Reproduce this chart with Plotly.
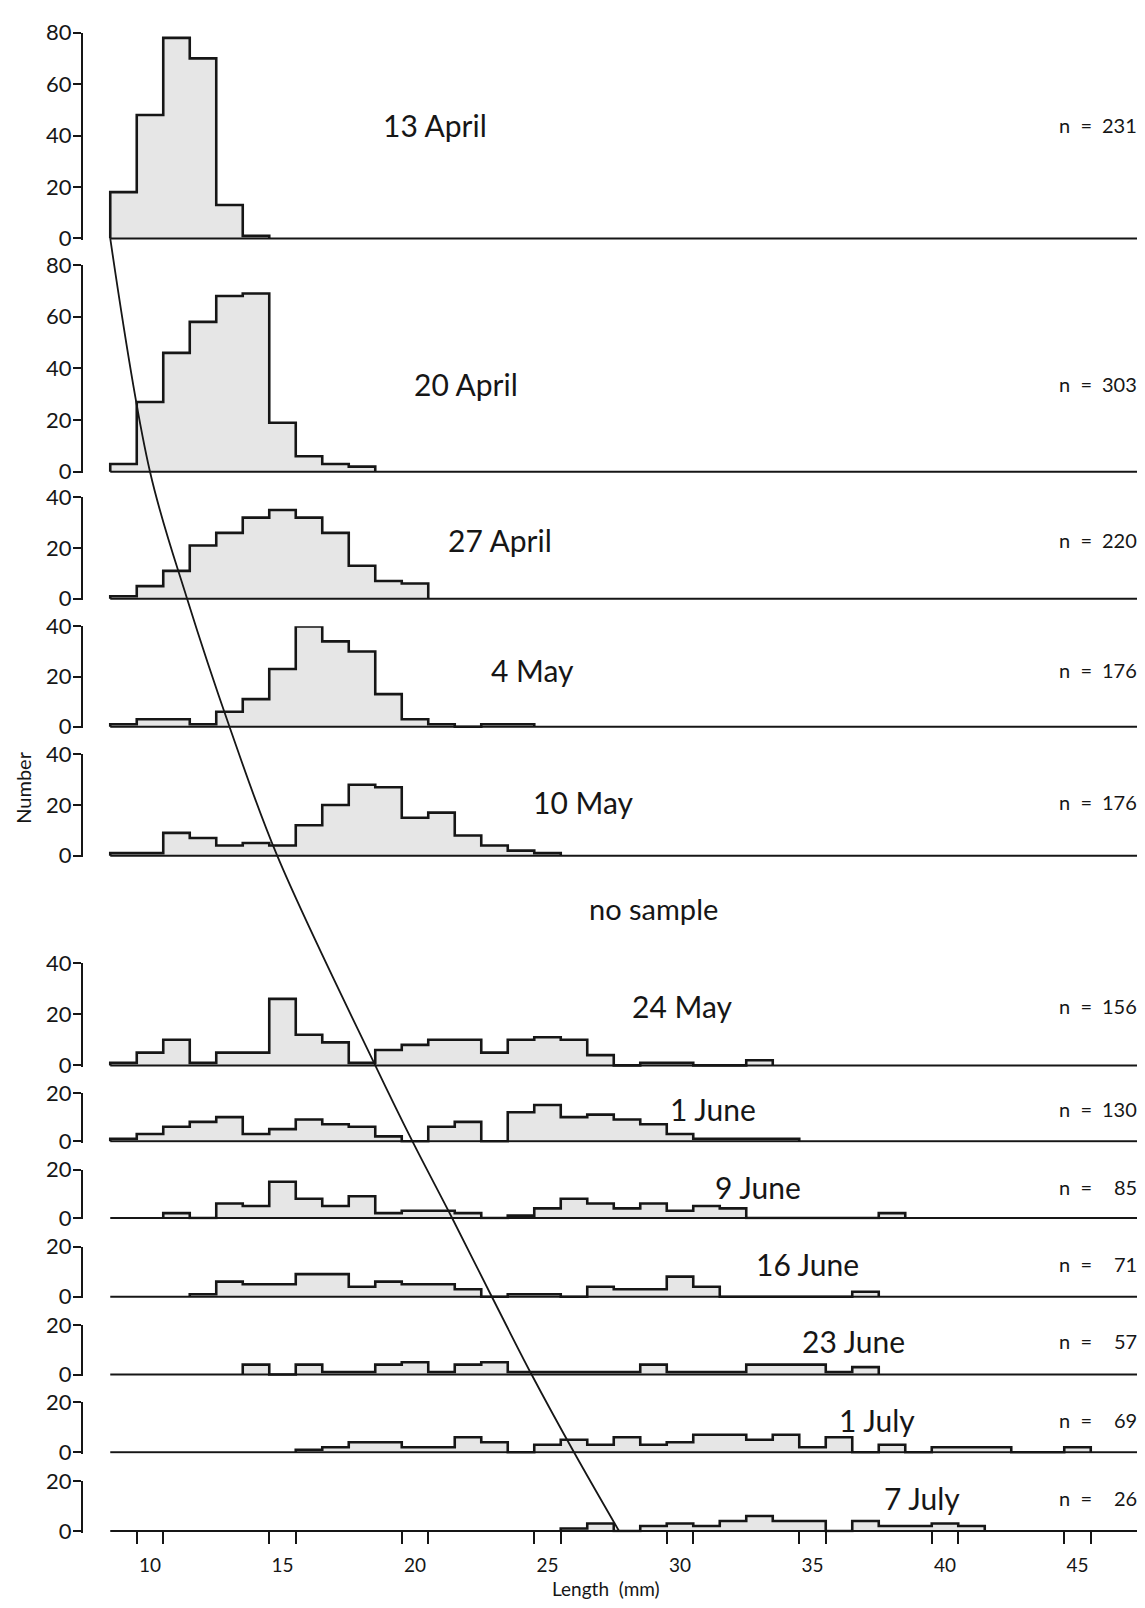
import plotly.graph_objects as go

# Length-frequency counts per 1-mm class (class k covers k-0.5 .. k+0.5 mm).
# Each list starts at the class given by its *_first value.
apr13_first, apr13 = 9, [18, 48, 78, 70, 13, 1]
apr20_first, apr20 = 9, [3, 27, 46, 58, 68, 69, 19, 6, 3, 2]
apr27_first, apr27 = 9, [1, 5, 11, 21, 26, 32, 35, 32, 26, 13, 7, 6]
may04_first, may04 = 9, [1, 3, 3, 1, 6, 11, 23, 40, 34, 30, 13, 3, 1, 0, 1, 1]
may10_first, may10 = 9, [1, 1, 9, 7, 4, 5, 4, 12, 20, 28, 27, 15, 17, 8, 4, 2, 1]
may24_first, may24 = 9, [1, 5, 10, 1, 5, 5, 26, 12, 9, 1, 6, 8, 10, 10, 5, 10, 11, 10, 4, 0, 1, 1, 0, 0, 2]
jun01_first, jun01 = 9, [1, 3, 6, 8, 10, 3, 5, 9, 7, 6, 2, 0, 6, 8, 0, 12, 15, 10, 11, 9, 7, 3, 1, 1, 1, 1]
jun09_first, jun09 = 11, [2, 0, 6, 5, 15, 8, 5, 9, 2, 3, 3, 2, 0, 1, 4, 8, 6, 4, 6, 3, 5, 4, 0, 0, 0, 0, 0, 2]
jun16_first, jun16 = 12, [1, 6, 5, 5, 9, 9, 4, 6, 5, 5, 3, 0, 1, 1, 0, 4, 3, 3, 8, 4, 0, 0, 0, 0, 0, 2]
jun23_first, jun23 = 14, [4, 0, 4, 1, 1, 4, 5, 1, 4, 5, 1, 1, 1, 1, 1, 4, 1, 1, 1, 4, 4, 4, 1, 3]
jul01_first, jul01 = 16, [1, 2, 4, 4, 2, 2, 6, 4, 0, 3, 5, 3, 6, 3, 4, 7, 7, 5, 7, 2, 6, 0, 3, 0, 2, 2, 2, 0, 0, 2]
jul07_first, jul07 = 26, [1, 3, 0, 2, 3, 2, 4, 6, 4, 4, 0, 4, 2, 2, 3, 2]

sample_dates = ["13 April", "20 April", "27 April", "4 May", "10 May", "24 May",
                "1 June", "9 June", "16 June", "23 June", "1 July", "7 July"]
sample_n = [231, 303, 220, 176, 176, 156, 130, 85, 71, 57, 69, 26]
sample_counts = [apr13, apr20, apr27, may04, may10, may24, jun01, jun09, jun16, jun23, jul01, jul07]
sample_first = [apr13_first, apr20_first, apr27_first, may04_first, may10_first, may24_first,
                jun01_first, jun09_first, jun16_first, jun23_first, jul01_first, jul07_first]
axis_max = [80, 80, 40, 40, 40, 40, 20, 20, 20, 20, 20, 20]

# Modal length followed through the samples (mm), one value per sample date
growth_length = [8.5, 10.0, 11.4, 13.0, 14.8, 18.5, 19.9, 21.4, 22.9, 24.4, 26.0, 27.7]

length_ticks = [10, 15, 20, 25, 30, 35, 40, 45]
gap_text = "no sample"

# ---------------- layout geometry (pixels) ----------------
W, H = 1145, 1608
zero_px = [228, 465, 594, 724, 855, 1068, 1145, 1223, 1303, 1382, 1461, 1541]
top_px = [19, 255, 491, 622, 752, 964, 1096, 1174, 1252, 1332, 1410, 1490]
label_y = [113, 376, 534, 666, 800, 1008, 1112, 1192, 1270, 1348, 1428, 1507]
label_x = [435, 466, 500, 532, 583, 682, 713, 758, 807, 853, 877, 922]
PX0, PX_PER_MM = 150.0, 26.5      # pixel of 10 mm, pixels per mm
AXIS_PX = 83                       # left edge of plotting area
x_lo = 10 + (AXIS_PX - PX0) / PX_PER_MM
x_hi = 10 + (W - PX0) / PX_PER_MM
base_from, base_to = 8.5, 10 + (1137 - PX0) / PX_PER_MM
PAD = 0.6                          # units below zero kept inside each panel

INK = "#161616"
FILL = "#e6e6e6"
FONT = "Lato, 'Noto Sans', sans-serif"
NARROW = "'Liberation Sans Narrow', " + FONT

fig = go.Figure()
layout_axes = {}
shapes = []

for i, counts in enumerate(sample_counts):
    k = i + 1
    ya = "y" if k == 1 else f"y{k}"
    yname = "yaxis" if k == 1 else f"yaxis{k}"
    first = sample_first[i]
    edges = [first - 0.5 + j for j in range(len(counts) + 1)]
    xs = [edges[0]] + edges[:-1] + [edges[-1], edges[-1]]
    ys = [0] + counts + [counts[-1], 0]
    fig.add_trace(go.Scatter(
        x=xs, y=ys, mode="lines", line=dict(shape="hv", color=INK, width=2.6),
        fill="tozeroy", fillcolor=FILL, xaxis="x", yaxis=ya,
        hoverinfo="skip", showlegend=False))

    unit = (zero_px[i] - top_px[i]) / axis_max[i]
    bottom = zero_px[i] + PAD * unit
    layout_axes[yname] = dict(
        domain=[1 - bottom / H, 1 - top_px[i] / H],
        range=[-PAD, axis_max[i]], anchor="x",
        tickvals=list(range(0, axis_max[i] + 1, 20)),
        ticks="outside", ticklen=8, tickwidth=2, tickcolor=INK,
        ticklabelstandoff=-3,
        showline=True, linewidth=2.2, linecolor=INK,
        showgrid=False, zeroline=False, fixedrange=True,
        tickfont=dict(family=FONT, size=22, color=INK))

    shapes.append(dict(type="line", xref="x", yref=ya, x0=base_from, x1=base_to,
                       y0=0, y1=0, line=dict(color=INK, width=2), layer="above"))

# growth curve drawn on a full-height overlay axis measured in page pixels
fig.add_trace(go.Scatter(
    x=growth_length, y=zero_px, mode="lines",
    line=dict(shape="spline", smoothing=1.0, color=INK, width=1.8),
    xaxis="x", yaxis="y13", hoverinfo="skip", showlegend=False))
layout_axes["yaxis13"] = dict(domain=[0, 1], range=[H, 0], anchor="x", visible=False,
                              fixedrange=True)

# carrier trace for the labelled length axis
fig.add_trace(go.Scatter(x=[], y=[], xaxis="x2", yaxis="y12", showlegend=False))

bottom_pos = 1 - zero_px[-1] / H
pair_ticks = []
for t in length_ticks:
    pair_ticks += [t - 0.5, t + 0.5]

fig.update_layout(
    width=W, height=H,
    margin=dict(l=0, r=0, t=0, b=0),
    paper_bgcolor="white", plot_bgcolor="rgba(0,0,0,0)",
    xaxis=dict(domain=[AXIS_PX / W, 1], range=[x_lo, x_hi], anchor="free",
               position=bottom_pos, tickvals=pair_ticks, ticktext=[""] * len(pair_ticks),
               ticks="outside", ticklen=12, tickwidth=2, tickcolor=INK,
               showline=False, showgrid=False, zeroline=False, fixedrange=True),
    xaxis2=dict(domain=[AXIS_PX / W, 1], range=[x_lo, x_hi], anchor="free",
                position=bottom_pos, overlaying="x",
                tickvals=length_ticks, ticks="outside", ticklen=17,
                tickcolor="rgba(0,0,0,0)", showline=False, showgrid=False,
                zeroline=False, fixedrange=True,
                tickfont=dict(family=NARROW, size=19, color=INK)),
    shapes=shapes,
    **layout_axes,
)

annotations = []
for i, name in enumerate(sample_dates):
    annotations.append(dict(
        text=name, x=label_x[i] / W, y=1 - label_y[i] / H, xref="paper", yref="paper",
        xanchor="center", yanchor="middle", showarrow=False,
        font=dict(family=FONT, size=30, color=INK)))
    annotations.append(dict(
        text="n  =", x=1057 / W, y=1 - label_y[i] / H, xref="paper", yref="paper",
        xanchor="left", yanchor="middle", showarrow=False,
        font=dict(family=FONT, size=20, color=INK)))
    annotations.append(dict(
        text=str(sample_n[i]), x=1139 / W, y=1 - label_y[i] / H, xref="paper", yref="paper",
        xanchor="right", yanchor="middle", showarrow=False,
        font=dict(family=FONT, size=20, color=INK)))

annotations.append(dict(text=gap_text, x=653 / W, y=1 - 909 / H, xref="paper", yref="paper",
                        xanchor="center", yanchor="middle", showarrow=False,
                        font=dict(family=FONT, size=29, color=INK)))
annotations.append(dict(text="Number", x=23 / W, y=1 - 786 / H, xref="paper", yref="paper",
                        xanchor="center", yanchor="middle", textangle=-90, showarrow=False,
                        font=dict(family=FONT, size=20, color=INK)))
annotations.append(dict(text="Length  (mm)", x=606 / W, y=1 - 1599 / H, xref="paper",
                        yref="paper", xanchor="center", yanchor="middle", showarrow=False,
                        font=dict(family=NARROW, size=19, color=INK)))
fig.update_layout(annotations=annotations)

fig.write_html("out.html")
